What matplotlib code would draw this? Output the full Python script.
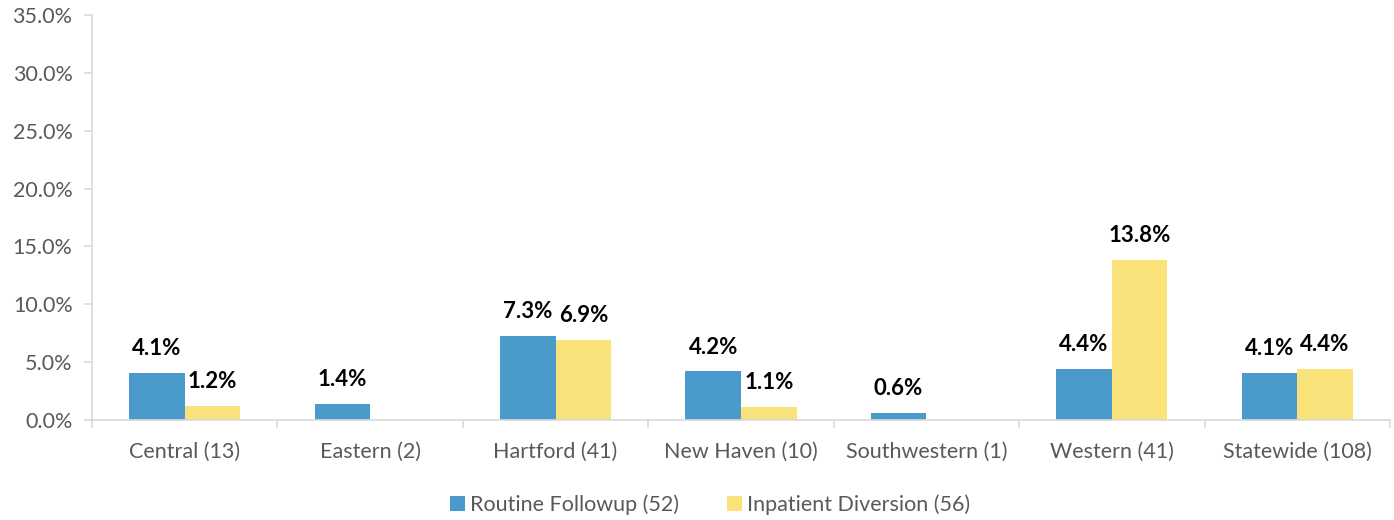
import numpy as np
import matplotlib
matplotlib.use('Agg')
import matplotlib.pyplot as plt

plt.rcParams['font.family'] = ['Lato', 'DejaVu Sans']

categories = ['Central (13)', 'Eastern (2)', 'Hartford (41)', 'New Haven (10)',
              'Southwestern (1)', 'Western (41)', 'Statewide (108)']
routine = [4.1, 1.4, 7.3, 4.2, 0.6, 4.4, 4.1]
inpatient = [1.2, 0.0, 6.9, 1.1, 0.0, 13.8, 4.4]
series_names = ['Routine Followup (52)', 'Inpatient Diversion (56)']

blue = '#4A9BCB'
yellow = '#F9E27A'
grey = '#595959'
axis_col = '#D9D9D9'

fig = plt.figure(figsize=(13.94, 5.2), dpi=100)
ax = fig.add_axes([92 / 1394, 100 / 520, 1298 / 1394, 405 / 520])

x = np.arange(len(categories))
w = 0.30
b1 = ax.bar(x - w / 2, routine, w, color=blue, label=series_names[0])
b2 = ax.bar(x + w / 2, inpatient, w, color=yellow, label=series_names[1])

# value labels, skip the empty bars
for bars, vals in ((b1, routine), (b2, inpatient)):
    for rect, v in zip(bars, vals):
        if v == 0:
            continue
        ax.annotate(f'{v:.1f}%', (rect.get_x() + rect.get_width() / 2, v),
                    xytext=(0, 10), textcoords='offset points',
                    ha='center', va='bottom', fontsize=16, fontweight='bold',
                    color='black')

ax.set_xlim(-0.5, len(categories) - 0.5)
ax.set_ylim(0, 35)
ax.set_yticks(np.arange(0, 35.1, 5))
ax.set_yticklabels([f'{t:.1f}%' for t in np.arange(0, 35.1, 5)])
ax.set_xticks(x)
ax.set_xticklabels(categories)
ax.set_xticks(np.arange(-0.5, len(categories)), minor=True)

ax.tick_params(axis='x', which='major', length=0, pad=16, labelsize=15.5, labelcolor=grey)
ax.tick_params(axis='x', which='minor', length=6, color=axis_col, width=1.2)
ax.tick_params(axis='y', length=6, color=axis_col, width=1.2, pad=8,
               labelsize=15.5, labelcolor=grey)

for s in ('top', 'right'):
    ax.spines[s].set_visible(False)
for s in ('left', 'bottom'):
    ax.spines[s].set_color(axis_col)
    ax.spines[s].set_linewidth(1.2)

leg = fig.legend([b1, b2], series_names, loc='center',
                 bbox_to_anchor=(710 / 1394, 15 / 520), ncol=2,
                 frameon=False, fontsize=15.5, handlelength=0.7, handleheight=0.7,
                 handletextpad=0.25, columnspacing=2.2, borderpad=0)
for t in leg.get_texts():
    t.set_color(grey)

fig.savefig('out.png', dpi=100)
